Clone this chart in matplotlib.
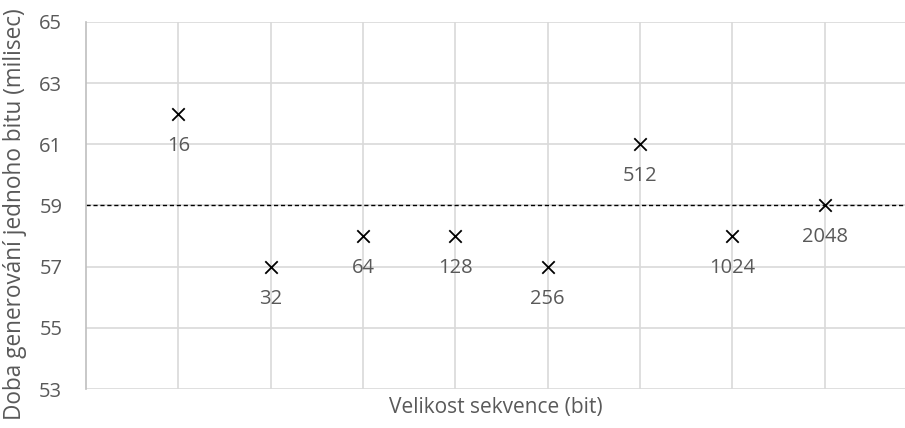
import matplotlib.pyplot as plt

sizes = ["16", "32", "64", "128", "256", "512", "1024", "2048"]
times = [62, 57, 58, 58, 57, 61, 58, 59]
average = 59

plt.rcParams["font.family"] = ["Open Sans", "DejaVu Sans"]

fig = plt.figure(figsize=(9.05, 4.28), dpi=100)
ax = fig.add_axes([0.095, 0.091, 0.905, 0.858])

x = list(range(1, len(sizes) + 1))
ax.scatter(x, times, marker="x", color="black", s=80, linewidths=1.3, zorder=3)
for xi, yi, lab in zip(x, times, sizes):
    ax.annotate(lab, (xi, yi), xytext=(0, -23), textcoords="offset points",
                ha="center", va="center", fontsize=14.5, color="#595959")

ax.axhline(average, color="black", linestyle=(0, (3, 2)), linewidth=1, zorder=2)

ax.set_xlim(0, 8.87)
ax.set_ylim(53, 65)
ax.set_yticks(range(53, 66, 2))
ax.set_xticks(x)
ax.set_xticklabels([])
ax.tick_params(axis="both", length=0, labelsize=14.5, labelcolor="#595959")
ax.tick_params(axis="y", pad=17)
ax.grid(True, color="#d9d9d9", linewidth=1.2)
ax.set_axisbelow(True)
for side in ["top", "right", "bottom"]:
    ax.spines[side].set_visible(False)
ax.spines["left"].set_color("#bfbfbf")
ax.spines["left"].set_linewidth(1.2)

ax.set_xlabel("Velikost sekvence (bit)", fontsize=15, color="#595959", labelpad=2)
fig.text(0.017, 0.5, "Doba generování jednoho bitu (milisec)", rotation=90,
         ha="center", va="center", fontsize=16.3, color="#595959")

fig.savefig("out.png", dpi=100)
